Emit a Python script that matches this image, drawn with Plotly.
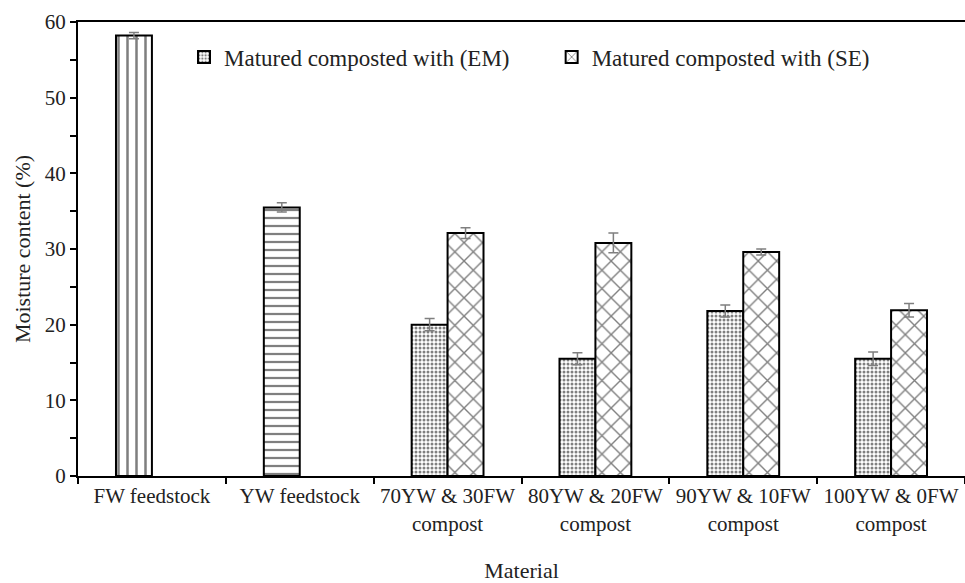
import plotly.graph_objects as go

categories = ["FW feedstock", "YW feedstock", "70YW & 30FW<br>compost",
              "80YW & 20FW<br>compost", "90YW & 10FW<br>compost", "100YW & 0FW<br>compost"]
fw_value = [58.2]
fw_err = [0.4]
yw_value = [35.5]
yw_err = [0.6]
em_cats = categories[2:]
em_values = [20.0, 15.5, 21.8, 15.5]
em_err = [0.8, 0.8, 0.8, 0.9]
se_values = [32.1, 30.8, 29.6, 21.9]
se_err = [0.7, 1.3, 0.4, 0.9]
legend_names = ["Matured composted with (EM)", "Matured composted with (SE)"]

FONT = "Liberation Serif"
BW = 0.243
err_style = dict(type="data", color="#7f7f7f", thickness=1.5, width=5, visible=True)
line_style = dict(color="black", width=2)

fig = go.Figure()
fig.add_trace(go.Bar(
    x=[categories[0]], y=fw_value, width=BW, offset=-BW, showlegend=False,
    error_y=dict(array=fw_err, **err_style),
    marker=dict(color="white", line=line_style,
                pattern=dict(shape="|", size=9, solidity=0.28, fgcolor="black", bgcolor="white"))))
fig.add_trace(go.Bar(
    x=[categories[1]], y=yw_value, width=BW, offset=-BW, showlegend=False,
    error_y=dict(array=yw_err, **err_style),
    marker=dict(color="white", line=line_style,
                pattern=dict(shape="-", size=8, solidity=0.28, fgcolor="black", bgcolor="white"))))
fig.add_trace(go.Bar(
    x=em_cats, y=em_values, width=BW, offset=-BW, name=legend_names[0], legend="legend",
    error_y=dict(array=em_err, **err_style),
    marker=dict(color="white", line=line_style,
                pattern=dict(shape=".", size=4, solidity=0.45, fgcolor="black", bgcolor="white"))))
fig.add_trace(go.Bar(
    x=em_cats, y=se_values, width=BW, offset=0, name=legend_names[1], legend="legend2",
    error_y=dict(array=se_err, **err_style),
    marker=dict(color="white", line=line_style,
                pattern=dict(shape="x", size=13, solidity=0.2, fgcolor="black", bgcolor="white"))))

leg_common = dict(font=dict(family=FONT, size=23, color="#222"), bgcolor="rgba(0,0,0,0)",
                  yanchor="middle", xanchor="left", y=0.923, itemwidth=30, borderwidth=0)

fig.update_layout(
    width=965, height=583,
    margin=dict(l=78, r=0, t=22, b=107),
    paper_bgcolor="white", plot_bgcolor="white",
    barmode="overlay",
    font=dict(family=FONT, size=21, color="#222"),
    legend=dict(x=0.1195, **leg_common),
    legend2=dict(x=0.534, **leg_common),
    xaxis=dict(
        type="category", categoryorder="array", categoryarray=categories,
        range=[-0.5, 5.5], showline=True, linecolor="black", linewidth=2, mirror=True,
        ticks="outside", tickson="boundaries", ticklen=6, tickwidth=1.5, tickcolor="black",
        tickfont=dict(family=FONT, size=21, color="#222"),
        showgrid=False, zeroline=False,
        title=dict(text="Material", font=dict(family=FONT, size=22, color="#222"), standoff=30),
        automargin=False,
    ),
    yaxis=dict(
        range=[0, 60], dtick=10, showline=True, linecolor="black", linewidth=2,
        ticks="outside", ticklen=6, tickwidth=1.5, tickcolor="black",
        minor=dict(dtick=5, ticks="outside", ticklen=6, tickwidth=1.5, tickcolor="black", showgrid=False),
        tickfont=dict(family=FONT, size=21, color="#222"),
        showgrid=False, zeroline=False,
        title=dict(text="Moisture content (%)", font=dict(family=FONT, size=22, color="#222"), standoff=8),
        automargin=False,
    ),
)

fig.write_html("out.html")
